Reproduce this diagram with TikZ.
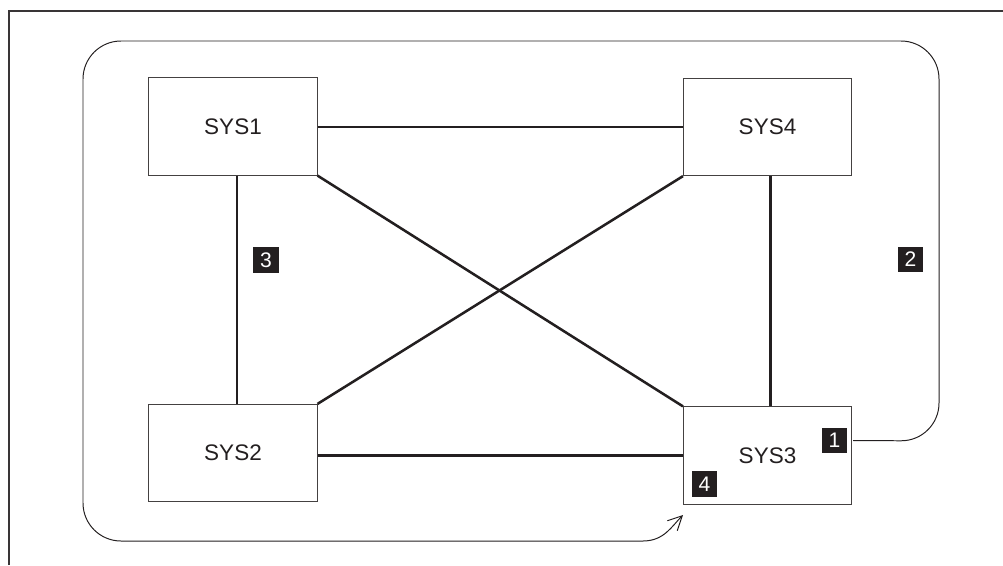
\documentclass[tikz,border=0pt]{standalone}
\usepackage{fontspec}
\setmainfont{Liberation Sans}
\usetikzlibrary{arrows.meta}
\definecolor{ink}{HTML}{231F20}

\tikzset{
  sysbox/.style={draw=ink!85, line width=0.7pt, minimum width=4.2cm, minimum height=2.43cm,
    font=\fontsize{16}{18}\selectfont, text=ink},
  tag/.style={fill=ink, text=white, inner sep=0pt, minimum size=0.63cm,
    font=\fontsize{15}{17}\selectfont},
  link/.style={line width=1.8pt, ink},
  loop/.style={line width=0.7pt, ink}
}

\begin{document}
\begin{tikzpicture}[x=0.025cm,y=-0.025cm]
  \useasboundingbox (0,0) rectangle (1003,565);
  % frame
  \draw[line width=1pt, ink!90] (9,565) -- (9,11) -- (1003,11);

  \node[sysbox] (sys1) at (233,126.5) {SYS1};
  \node[sysbox] (sys4) at (767.5,127) {SYS4};
  \node[sysbox] (sys2) at (233,453)   {SYS2};
  \node[sysbox] (sys3) at (767.5,455.5) {SYS3};

  \draw[link] (sys1.east |- sys4) -- (sys4);
  \draw[link] (sys2.east |- sys3) -- (sys3);
  \draw[link] ([xshift=0.1cm]sys1.south) -- ([xshift=0.1cm]sys2.north);
  \draw[link] ([xshift=0.07cm]sys4.south) -- ([xshift=0.07cm]sys3.north);
  \draw[link] (sys1.south east) -- (sys3.north west);
  \draw[link] (sys2.north east) -- (sys4.south west);

  \node[tag] (n1) at (834.5,440.5) {1};
  \node[tag] (n2) at (910.5,259.5) {2};
  \node[tag] (n3) at (266,260)     {3};
  \node[tag] (n4) at (704.5,484)   {4};

  % loop round the systems
  \coordinate (start) at (sys3.east |- n1.center);
  \coordinate (bend) at (643,541);
  \coordinate (tip) at (683,515);
  \draw[loop, rounded corners=0.95cm]
    ([xshift=0.03cm]start) -- (939,441) -- (939,41) -- (83,41) -- (83,541) -- (bend);
  \draw[loop, -{Straight Barb[length=10pt,width=10pt]}]
    (bend) .. controls (664,541) and (672,526) .. (tip);
\end{tikzpicture}
\end{document}
